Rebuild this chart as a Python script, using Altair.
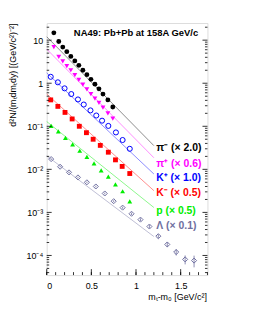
import altair as alt
import pandas as pd

W, H = 162, 254
FONT = "Liberation Sans"

# ---- data ----
series = ["pim", "pip", "kp", "km", "p", "lam"]
colors = ["#000000", "#ff00ff", "#0000ff", "#ff0000", "#00ee00", "#7070a0"]
shapes = ["circle", "triangle-down", "circle", "square", "triangle-up", "diamond"]
labels = ["π⁻ (× 2.0)", "π⁺ (× 0.6)", "K⁺ (× 1.0)", "K⁻ (× 0.5)", "p (× 0.5)", "Λ (× 0.1)"]

pim_x = [0.08, 0.135, 0.18, 0.225, 0.27, 0.315, 0.36, 0.405, 0.45, 0.495, 0.54, 0.585, 0.63, 0.685, 0.74]
pim_y = [14.8, 9.3, 6.9, 5.4, 4.2, 3.3, 2.6, 2.0, 1.58, 1.23, 0.95, 0.74, 0.56, 0.41, 0.28]
pip_x = [0.08, 0.135, 0.18, 0.225, 0.27, 0.315, 0.36, 0.405, 0.45, 0.495, 0.54, 0.585, 0.63, 0.685, 0.74]
pip_y = [6.9, 4.1, 3.2, 2.5, 2.0, 1.55, 1.20, 0.93, 0.72, 0.56, 0.44, 0.35, 0.27, 0.20, 0.15]
kp_x = [0.045, 0.125, 0.2, 0.275, 0.35, 0.415, 0.49, 0.555, 0.62, 0.69, 0.775, 0.85, 0.93]
kp_y = [1.41, 1.05, 0.76, 0.56, 0.42, 0.32, 0.234, 0.178, 0.135, 0.102, 0.072, 0.048, 0.030]
km_x = [0.045, 0.125, 0.205, 0.285, 0.365, 0.445, 0.52, 0.6, 0.69, 0.77, 0.845, 0.93]
km_y = [0.41, 0.29, 0.21, 0.148, 0.100, 0.071, 0.050, 0.036, 0.025, 0.0166, 0.0117, 0.0080]
p_x = [0.05, 0.13, 0.21, 0.29, 0.37, 0.45, 0.53, 0.61, 0.69, 0.77, 0.85, 0.93]
p_y = [0.102, 0.076, 0.054, 0.038, 0.027, 0.0195, 0.0138, 0.0095, 0.0068, 0.0045, 0.0031, 0.0018]
lam_x = [0.05, 0.15, 0.25, 0.35, 0.45, 0.55, 0.65, 0.75, 0.85, 0.95, 1.05, 1.15, 1.25, 1.35, 1.45, 1.55, 1.65]
lam_y = [0.0173, 0.0115, 0.0085, 0.0065, 0.0050, 0.0040, 0.00275, 0.00182, 0.00129, 0.00093,
         0.00068, 0.00047, 0.00028, 0.00018, 0.00012, 0.000081, 0.000076]
lam_err = [0.0006, 0.0004, 0.0003, 0.00025, 0.0002, 0.00016, 0.00012, 0.00009, 0.00007, 0.00006,
           0.00005, 0.00004, 0.00003, 0.000025, 0.00002, 0.000019, 0.000023]

# exponential fit lines (start/end values)
fit_x = [0.0, 1.2]
fit_y = {
    "pim": [12.0, 0.0355],
    "pip": [6.2, 0.0186],
    "kp": [1.74, 0.0078],
    "km": [0.56, 0.0032],
    "p": [0.129, 0.0013],
    "lam": [0.0206, 0.000275],
}
label_x = 1.226
label_y = [0.0316, 0.0135, 0.0064, 0.00275, 0.0011, 0.00047]

x_major = [0, 0.5, 1.0, 1.5]
x_minor = [round(0.1 * i, 1) for i in range(0, 19)]
y_major = [1e-4, 1e-3, 1e-2, 1e-1, 1, 10]
y_minor = [m * 10.0 ** e for e in range(-5, 2) for m in range(2, 10) if 3.5e-5 < m * 10.0 ** e < 25]

# ---- tables ----
pts = []
for s, xs, ys in [("pim", pim_x, pim_y), ("pip", pip_x, pip_y), ("kp", kp_x, kp_y),
                  ("km", km_x, km_y), ("p", p_x, p_y), ("lam", lam_x, lam_y)]:
    for a, b in zip(xs, ys):
        pts.append({"x": a, "y": b, "s": s})
pts = pd.DataFrame(pts)
err = pd.DataFrame({"x": lam_x, "y": [v - e for v, e in zip(lam_y, lam_err)],
                    "y2": [v + e for v, e in zip(lam_y, lam_err)], "s": ["lam"] * len(lam_x)})
fits = pd.DataFrame([{"x": fx, "y": fy, "s": s} for s in series for fx, fy in zip(fit_x, fit_y[s])])
labs = pd.DataFrame({"x": [label_x] * 6, "y": label_y, "t": labels, "s": series})

xscale = alt.Scale(domain=[0, 1.8], nice=False, zero=False)
yscale = alt.Scale(type="log", domain=[3.5e-5, 25], nice=False)

xaxis = alt.Axis(values=x_major, format="~g", ticks=False, domain=False, grid=False,
                 labelFont=FONT, labelFontSize=9, labelPadding=7, labelColor="black",
                 title="mₜ-m₀ [GeV/c²]", titleFont=FONT, titleFontSize=9, titleFontWeight="normal",
                 titleAnchor="end", titleAlign="right", titleX=161, titleY=22, titleBaseline="middle")
yaxis = alt.Axis(values=y_major, ticks=False, domain=False, grid=False,
                 labelExpr="datum.value > 5 ? '10' : datum.value > 0.5 ? '1' : datum.value > 0.05 ? '10⁻¹' : datum.value > 0.005 ? '10⁻²' : datum.value > 0.0005 ? '10⁻³' : '10⁻⁴'",
                 labelFont=FONT, labelFontSize=9, labelPadding=4, labelColor="black",
                 title="d²N/(mₜdmₜdy) [(GeV/c²)⁻²]", titleFont=FONT, titleFontSize=9,
                 titleFontWeight="normal", titleAngle=270, titleAlign="right", titleBaseline="middle",
                 titleX=-34, titleY=0)


def X(f="x"):
    return alt.X(f, type="quantitative", scale=xscale, axis=xaxis)


def Y(f="y"):
    return alt.Y(f, type="quantitative", scale=yscale, axis=yaxis)


col = alt.Color("s:N", scale=alt.Scale(domain=series, range=colors), legend=None)
shp = alt.Shape("s:N", scale=alt.Scale(domain=series, range=shapes), legend=None)

lines = alt.Chart(fits).mark_line(strokeWidth=0.7, opacity=0.65).encode(
    x=X(), y=Y(), color=col, detail="s:N")

filled = alt.Chart(pts).transform_filter("datum.s != 'kp' && datum.s != 'lam'").mark_point(
    filled=True, size=24, opacity=1).encode(x=X(), y=Y(), shape=shp, color=col)

openp = alt.Chart(pts).transform_filter("datum.s == 'kp' || datum.s == 'lam'").mark_point(
    filled=False, size=26, strokeWidth=1, opacity=1).encode(x=X(), y=Y(), shape=shp, color=col)

errs = alt.Chart(err).mark_rule(strokeWidth=0.8).encode(x=X(), y=Y(), y2="y2", color=col)

texts = alt.Chart(labs).mark_text(align="left", baseline="middle", font=FONT, fontSize=10.5,
                                  fontWeight="bold").encode(x=X(), y=Y(), text="t:N", color=col)

title = alt.Chart(pd.DataFrame({"t": ["NA49: Pb+Pb at 158A GeV/c"]})).mark_text(
    align="center", baseline="middle", font=FONT, fontSize=9.5, fontWeight="bold", color="black").encode(
    x=alt.value(90), y=alt.value(10.5), text="t:N")

# tick marks inside the frame
ymaj = pd.DataFrame({"y": y_major})
ymin = pd.DataFrame({"y": y_minor})
xmaj = pd.DataFrame({"x": x_major})
xmin = pd.DataFrame({"x": x_minor})
tk = dict(color="black", strokeWidth=0.8)
ticks = [
    alt.Chart(ymaj).mark_rule(**tk).encode(y=Y(), x=alt.value(0), x2=alt.value(5)),
    alt.Chart(ymaj).mark_rule(**tk).encode(y=Y(), x=alt.value(W), x2=alt.value(W - 5)),
    alt.Chart(ymin).mark_rule(**tk).encode(y=Y(), x=alt.value(0), x2=alt.value(2.5)),
    alt.Chart(ymin).mark_rule(**tk).encode(y=Y(), x=alt.value(W), x2=alt.value(W - 2.5)),
    alt.Chart(xmaj).mark_rule(**tk).encode(x=X(), y=alt.value(H), y2=alt.value(H - 6)),
    alt.Chart(xmin).mark_rule(**tk).encode(x=X(), y=alt.value(H), y2=alt.value(H - 3)),
]

chart = alt.layer(lines, errs, filled, openp, texts, title, *ticks).properties(
    width=W, height=H, autosize=alt.AutoSizeParams(type="none"),
    padding={"left": 39, "top": 14, "right": 60, "bottom": 30},
).configure_view(stroke="black", strokeWidth=1).configure(background="white")

chart.save("out.html", embed_options={"renderer": "svg", "actions": False})
